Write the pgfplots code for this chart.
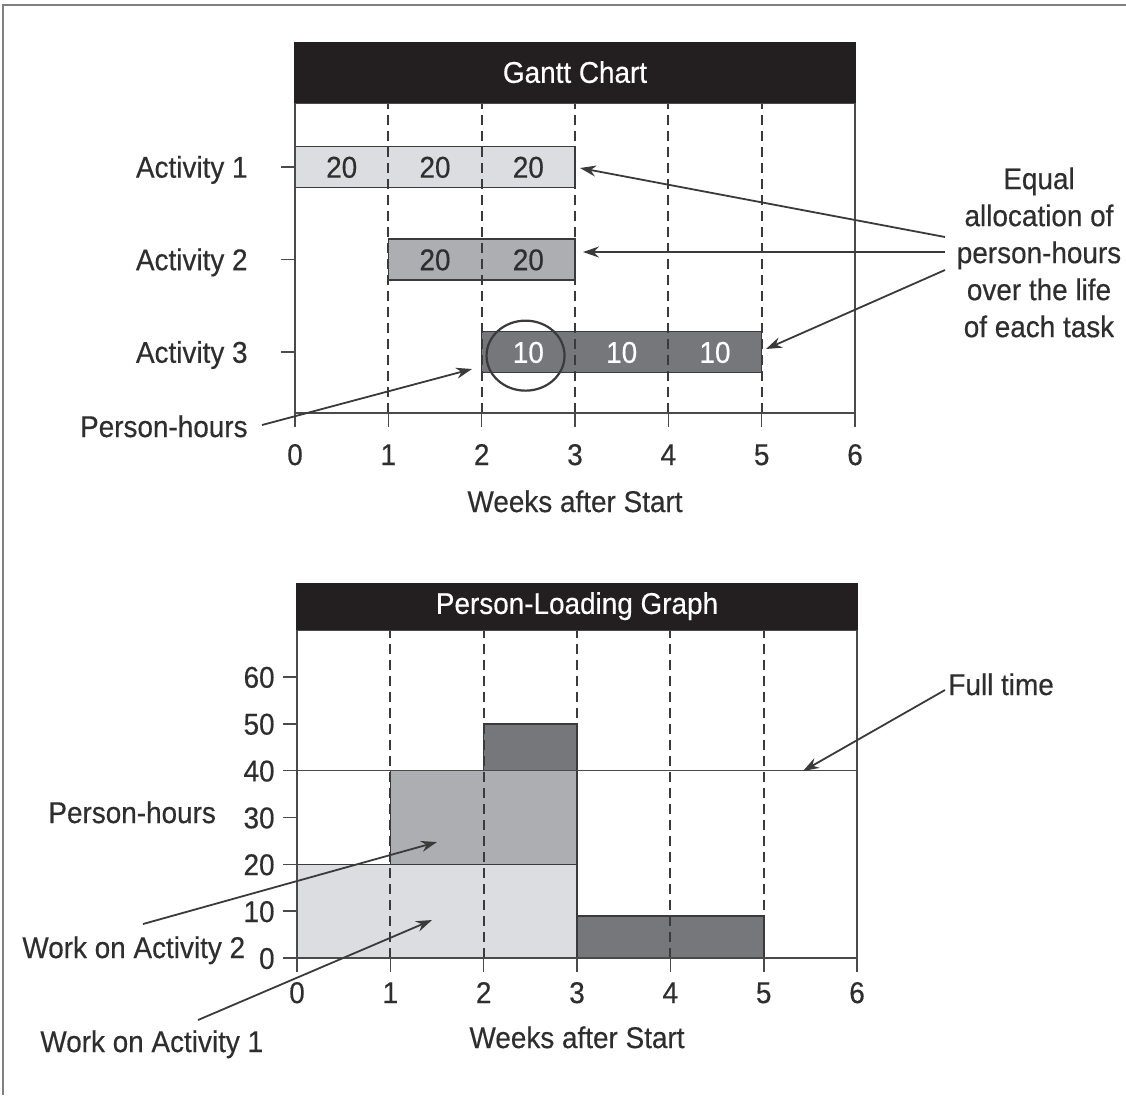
\documentclass[border=0pt]{standalone}
\usepackage{fontspec}
\setmainfont{Liberation Sans}[FakeStretch=0.93, FakeBold=0.4]
\usepackage{pgfplots}
\pgfplotsset{compat=1.18}
\usetikzlibrary{arrows.meta}

\definecolor{barblack}{HTML}{231F20}
\definecolor{actone}{HTML}{DCDDE0}
\definecolor{acttwo}{HTML}{ADAEB2}
\definecolor{actthree}{HTML}{76777B}
\definecolor{framegray}{HTML}{4A4A4A}
\definecolor{edgegray}{HTML}{3A3A3A}
\definecolor{inkgray}{HTML}{2E2E2E}

\newcommand{\tfont}{\fontsize{15bp}{18.5bp}\selectfont}

\pgfplotsset{
  chartbase/.style={
    scale only axis, width=280bp,
    xmin=0, xmax=6, xtick={0,...,6},
    axis line style={draw=framegray, line width=0.8bp},
    tick style={draw=framegray, line width=0.8bp},
    tick align=outside, major tick length=7bp,
    xtick pos=left, ytick pos=left,
    xmajorgrids,
    major grid style={draw=edgegray, line width=0.9bp, dash pattern=on 5bp off 3bp},
    axis on top,
    /pgf/number format/assume math mode=true,
    tick label style={font=\tfont, text=inkgray, inner sep=0pt},
    label style={font=\tfont, text=inkgray, inner sep=0pt},
    xlabel={Weeks after Start},
    every axis title shift=0pt,
    title style={font=\tfont, text=white, fill=barblack, at={(0.5,1)},
      anchor=south, inner sep=0pt, minimum width=280.8bp},
  },
  box/.style={draw=edgegray, line width=0.8bp},
}
\tikzset{inbar/.style={font=\tfont, text=inkgray, anchor=base, yshift=-5.4bp, inner sep=0pt}}

\begin{document}
\begin{tikzpicture}[x=0.5bp, y=-0.5bp]
\useasboundingbox (0,0) rectangle (1126,1095);
\draw[gray, line width=1bp] (3,1095) -- (3,5) -- (1126,5);

% Gantt chart
\begin{axis}[chartbase,
  at={(147.5bp,-206.5bp)}, anchor=south west, height=155bp,
  ymin=0.34, ymax=3.69,
  ytick={1,2,3}, yticklabels={Activity 3, Activity 2, Activity 1},
  xticklabel style={anchor=base, yshift=-19bp},
  yticklabel style={anchor=base east, xshift=-16.5bp, yshift=-5.4bp},
  xlabel style={at={(axis description cs:0.5,0)}, anchor=base, yshift=-49.5bp},
  title={Gantt Chart}, title style={minimum height=30.5bp},
]
\addplot[box, fill=actone] coordinates {(0,2.778) (3,2.778) (3,3.222) (0,3.222)} --cycle;
\addplot[box, fill=acttwo] coordinates {(1,1.778) (3,1.778) (3,2.222) (1,2.222)} --cycle;
\addplot[box, fill=actthree] coordinates {(2,0.778) (5,0.778) (5,1.222) (2,1.222)} --cycle;
\node[inbar] at (axis cs:0.5,3) {20};
\node[inbar] at (axis cs:1.5,3) {20};
\node[inbar] at (axis cs:2.5,3) {20};
\node[inbar] at (axis cs:1.5,2) {20};
\node[inbar] at (axis cs:2.5,2) {20};
\node[inbar, text=white] at (axis cs:2.5,1) {10};
\node[inbar, text=white] at (axis cs:3.5,1) {10};
\node[inbar, text=white] at (axis cs:4.5,1) {10};
\draw[edgegray, line width=1.1bp] (axis cs:2.47,0.96) ellipse [x radius=19.5bp, y radius=17.5bp];
\end{axis}

% Person-loading graph
\begin{axis}[chartbase,
  at={(148.5bp,-479bp)}, anchor=south west, height=164bp,
  ymin=0, ymax=70, ytick={0,10,...,60},
  xticklabel style={anchor=base, yshift=-15.5bp},
  yticklabel style={anchor=base east, xshift=-4bp, yshift=-5.4bp},
  xlabel style={at={(axis description cs:0.5,0)}, anchor=base, yshift=-45bp},
  title={Person-Loading Graph}, title style={minimum height=23.5bp},
]
\addplot[box, fill=actone] coordinates {(0,0) (3,0) (3,20) (0,20)} --cycle;
\addplot[box, fill=acttwo] coordinates {(1,20) (3,20) (3,40) (1,40)} --cycle;
\addplot[box, fill=actthree] coordinates {(2,40) (3,40) (3,50) (2,50)} --cycle;
\addplot[box, fill=actthree] coordinates {(3,0) (5,0) (5,9) (3,9)} --cycle;
\addplot[draw=framegray, line width=0.8bp] coordinates {(0,40) (6,40)};
\end{axis}

% annotations
\begin{scope}[font=\tfont, text=inkgray]
\node[anchor=north, align=center, inner sep=0pt] at (1039,167)
  {Equal\\allocation of\\person-hours\\over the life\\of each task};
\node[anchor=base east, inner sep=0pt] at (248,437) {Person-hours};
\node[anchor=base west, inner sep=0pt] at (48,823) {Person-hours};
\node[anchor=base west, inner sep=0pt] at (22,958) {Work on Activity 2};
\node[anchor=base west, inner sep=0pt] at (40,1052) {Work on Activity 1};
\node[anchor=base west, inner sep=0pt] at (948,695) {Full time};
\end{scope}
\begin{scope}[draw=edgegray, line width=0.9bp, -{Stealth[length=8bp, width=5.5bp]}]
\draw (945,237) -- (580,168);
\draw (945,252) -- (583,252);
\draw (945,270) -- (766,349);
\draw (262,425) -- (472,369);
\draw (945,690) -- (803,771);
\draw (143,924) -- (437,842);
\draw (198,1020) -- (432,920);
\end{scope}
\end{tikzpicture}
\end{document}
